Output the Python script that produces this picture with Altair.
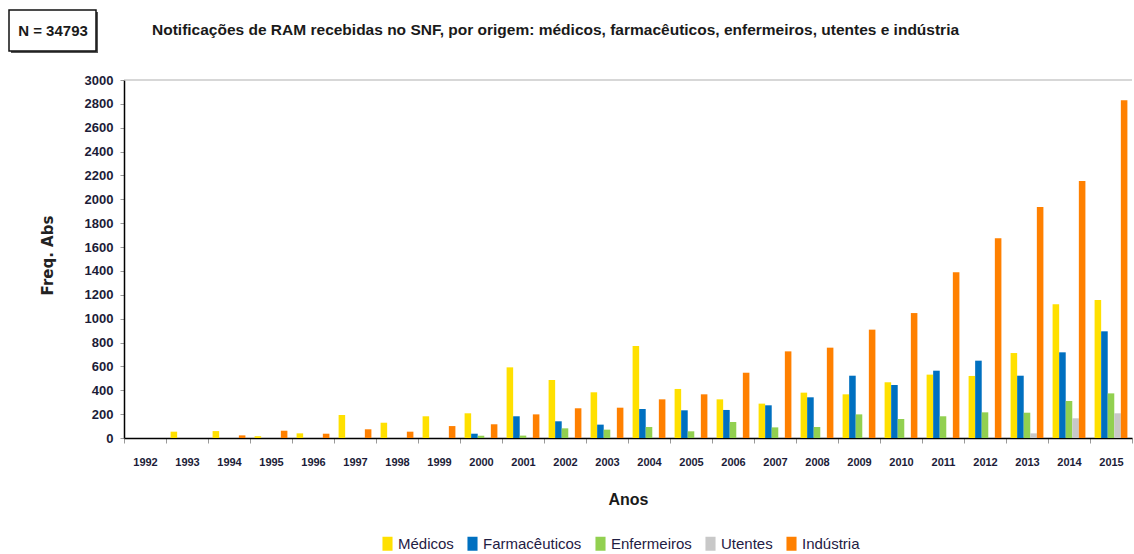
import altair as alt
import pandas as pd

# Notificações de RAM recebidas no SNF, por ano e origem
anos = [str(a) for a in range(1992, 2016)]
origens = ["Médicos", "Farmacêuticos", "Enfermeiros", "Utentes", "Indústria"]
cores = ["#FFE000", "#0070C0", "#92D050", "#C8C8C8", "#FF8000"]

medicos = [0, 53, 58, 15, 39, 193, 128, 182, 207, 592, 486, 383, 771, 411, 324,
           288, 380, 366, 467, 531, 520, 712, 1120, 1156]
farmaceuticos = [0, 0, 0, 0, 0, 0, 0, 0, 36, 182, 140, 112, 243, 232, 235,
                 274, 341, 522, 444, 564, 648, 522, 718, 894]
enfermeiros = [0, 0, 0, 0, 0, 0, 0, 0, 19, 20, 81, 70, 92, 56, 134,
               89, 92, 198, 159, 182, 215, 212, 310, 374]
utentes = [0, 0, 0, 0, 0, 0, 0, 8, 0, 0, 0, 0, 0, 0, 0,
           0, 0, 0, 0, 0, 0, 39, 165, 207]
industria = [0, 0, 22, 61, 36, 73, 53, 100, 115, 198, 249, 254, 324, 366, 547,
             726, 757, 908, 1047, 1389, 1673, 1936, 2154, 2830]

y_ticks = list(range(0, 3001, 200))
titulo = ("Notificações  de RAM recebidas no SNF, por origem: médicos, "
          "farmacêuticos, enfermeiros, utentes e indústria")
total_txt = "N = 34793"

series = [medicos, farmaceuticos, enfermeiros, utentes, industria]
rows = []
for origem, serie in zip(origens, series):
    for ano, v in zip(anos, serie):
        rows.append({"Ano": ano, "Origem": origem, "Freq": v})
df = pd.DataFrame(rows)

SANS = "Liberation Sans"
INK = "#1c1c38"

y_scale = alt.Scale(domain=[0, 3000], nice=False)
y_axis = alt.Axis(
    values=y_ticks, format="d", labelOverlap=False, grid=False,
    title="Freq. Abs",
    labelFont=SANS, labelFontSize=13, labelFontWeight="bold",
    labelColor=INK, labelPadding=7,
    tickColor="#9a9a9a", tickSize=4,
    domainColor="#000000", domainWidth=1.5,
    titleFont="DejaVu Sans", titleFontSize=15, titleFontWeight="bold",
    titleColor="#222222", titleX=-77, titleY=175,
    titleAlign="center", titleBaseline="middle", titleAngle=-90,
)

bars = alt.Chart(df).mark_bar().encode(
    x=alt.X(
        "Ano:N", sort=anos,
        scale=alt.Scale(paddingInner=0, paddingOuter=0),
        axis=alt.Axis(
            title="Anos", labelAngle=0, tickBand="extent",
            labelFont=SANS, labelFontSize=11, labelFontWeight="bold",
            labelColor=INK, labelPadding=13,
            tickColor="#9a9a9a", tickSize=5,
            domainColor="#000000", domainWidth=1.5,
            titleFont=SANS, titleFontSize=16, titleFontWeight="bold",
            titleColor="#1a1a1a", titleY=61, titleBaseline="middle",
        ),
    ),
    xOffset=alt.XOffset(
        "Origem:N", sort=origens,
        scale=alt.Scale(paddingInner=0, paddingOuter=0.7),
    ),
    y=alt.Y("Freq:Q", scale=y_scale, axis=y_axis),
    color=alt.Color(
        "Origem:N", sort=origens,
        scale=alt.Scale(domain=origens, range=cores),
        legend=alt.Legend(
            title=None, orient="none", direction="horizontal",
            legendX=256, legendY=456,
            symbolType="M-0.72,-1H0.72V1H-0.72Z", symbolSize=196,
            symbolStrokeWidth=0, symbolOpacity=1,
            labelFont=SANS, labelFontSize=15, labelColor="#1f2044",
            labelOffset=3, columnPadding=11,
        ),
    ),
)

# Linha de topo da área do gráfico (3000)
top_line = alt.Chart(pd.DataFrame({"Freq": [3000]})).mark_rule(
    color="#b0b0b0", strokeWidth=1.2
).encode(y=alt.Y("Freq:Q", scale=y_scale, axis=y_axis))

label_df = pd.DataFrame({"t": [titulo]})
title_mark = alt.Chart(label_df).mark_text(
    align="left", baseline="middle", font=SANS, fontSize=15.5,
    fontWeight="bold", color="#1a1a1a"
).encode(text="t:N", x=alt.value(28), y=alt.value(-50))

box_df = pd.DataFrame({"t": [total_txt]})
box_shadow = alt.Chart(box_df).mark_rect(fill="#555555").encode(
    x=alt.value(-113), x2=alt.value(-26), y=alt.value(-68), y2=alt.value(-27)
)
box = alt.Chart(box_df).mark_rect(
    fill="#ffffff", stroke="#111111", strokeWidth=1.5
).encode(
    x=alt.value(-115), x2=alt.value(-28), y=alt.value(-70), y2=alt.value(-29)
)
box_text = alt.Chart(box_df).mark_text(
    align="center", baseline="middle", font=SANS, fontSize=15,
    fontWeight="bold", color="#1a1a1a"
).encode(text="t:N", x=alt.value(-71), y=alt.value(-49))

chart = alt.layer(
    bars, top_line, title_mark, box_shadow, box, box_text
).properties(
    width=1008, height=358,
    autosize=alt.AutoSizeParams(type="none"),
    padding={"left": 124, "top": 80, "right": 2, "bottom": 116},
).configure_view(stroke=None)

chart.save("out.html", embed_options={"renderer": "svg", "actions": False})
